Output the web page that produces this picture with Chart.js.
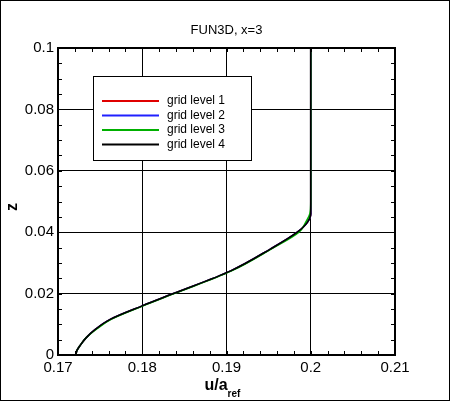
<!DOCTYPE html>
<html><head><meta charset="utf-8">
<script src="https://cdn.jsdelivr.net/npm/chart.js@4/dist/chart.umd.min.js"></script>
<style>html,body{margin:0;padding:0;background:#fff}#wrap{width:450px;height:401px;position:relative;box-sizing:border-box;border:1px solid #000}</style>
</head><body><div id="wrap"><canvas id="c"></canvas></div>
<script>
const zBase = [0, 0.0015, 0.003, 0.0055, 0.0085, 0.0116, 0.016, 0.020, 0.0274, 0.0345, 0.040, 0.0432, 0.046, 0.05, 0.1];
const uBase = [0.1721, 0.17225, 0.1726, 0.1733, 0.1745, 0.1762, 0.1800, 0.1837, 0.1905, 0.1952, 0.1984, 0.1996, 0.2000, 0.2000, 0.2000];
const uGrid3 = [0.1721, 0.17225, 0.1726, 0.1733, 0.1746, 0.1763, 0.1801, 0.1838, 0.1906, 0.1953, 0.1986, 0.1994, 0.1999, 0.2000, 0.2000];
const seriesNames = ['grid level 1', 'grid level 2', 'grid level 3', 'grid level 4'];
const seriesColors = ['#e00000', '#2020ff', '#00b000', '#000000'];
const xTicks = [0.17, 0.18, 0.19, 0.2, 0.21];
const yTicks = [0, 0.02, 0.04, 0.06, 0.08, 0.1];

const seriesU = [uBase, uBase, uGrid3, uBase];

const overlay = {
  id: 'overlay',
  afterDraw(chart) {
    const { ctx, chartArea: a, scales: { x, y } } = chart;
    ctx.save();
    ctx.strokeStyle = '#000';
    ctx.lineWidth = 1;
    // minor ticks
    ctx.beginPath();
    for (let v = 0.17; v <= 0.2101; v += 0.002) {
      const px = Math.round(x.getPixelForValue(v)) + 0.5;
      ctx.moveTo(px, a.bottom); ctx.lineTo(px, a.bottom - 4);
      ctx.moveTo(px, a.top); ctx.lineTo(px, a.top + 4);
    }
    for (let v = 0; v <= 0.1001; v += 0.005) {
      const py = Math.round(y.getPixelForValue(v)) + 0.5;
      ctx.moveTo(a.left, py); ctx.lineTo(a.left + 4, py);
      ctx.moveTo(a.right, py); ctx.lineTo(a.right - 4, py);
    }
    ctx.stroke();
    ctx.lineWidth = 2;
    ctx.strokeRect(a.left, a.top, a.right - a.left, a.bottom - a.top);
    // title
    ctx.fillStyle = '#000';
    ctx.font = '13px "Liberation Sans", Arial, sans-serif';
    ctx.textAlign = 'center';
    ctx.fillText('FUN3D, x=3', (a.left + a.right) / 2, 33);
    // axis titles
    ctx.font = 'bold 16px "Liberation Sans", Arial, sans-serif';
    ctx.textAlign = 'left';
    const cx = (a.left + a.right) / 2 - 22;
    ctx.fillText('u/a', cx, 389);
    const w = ctx.measureText('u/a').width;
    ctx.font = 'bold 10px "Liberation Sans", Arial, sans-serif';
    ctx.fillText('ref', cx + w, 396);
    ctx.font = 'bold 16px "Liberation Sans", Arial, sans-serif';
    ctx.translate(16, 206); ctx.rotate(-Math.PI / 2);
    ctx.textAlign = 'center';
    ctx.fillText('z', 0, 0);
    ctx.setTransform(1, 0, 0, 1, 0, 0);
    // legend
    ctx.fillStyle = '#fff';
    ctx.fillRect(92, 75, 158, 84);
    ctx.lineWidth = 1;
    ctx.strokeRect(92.5, 75.5, 158, 84);
    ctx.font = '12px "Liberation Sans", Arial, sans-serif';
    ctx.textAlign = 'left';
    ctx.textBaseline = 'middle';
    seriesNames.forEach((n, i) => {
      const ly = 100 + i * 14.5;
      ctx.strokeStyle = seriesColors[i];
      ctx.lineWidth = 2;
      ctx.beginPath(); ctx.moveTo(101, ly); ctx.lineTo(158, ly); ctx.stroke();
      ctx.fillStyle = '#000';
      ctx.fillText(n, 166, ly);
    });
    ctx.restore();
  }
};

new Chart(document.getElementById('c'), {
  type: 'scatter',
  data: {
    datasets: seriesNames.map((n, i) => ({
      label: n,
      order: 3 - i,
      data: seriesU[i].map((u, k) => ({ x: u, y: zBase[k] })),
      showLine: true,
      borderColor: seriesColors[i],
      borderWidth: 1.6,
      pointRadius: 0,
      cubicInterpolationMode: 'monotone',
      indexAxis: 'y'
    }))
  },
  options: {
    responsive: true, maintainAspectRatio: false, animation: false,
    layout: { padding: { left: 0, right: 54, top: 47, bottom: 0 } },
    plugins: { legend: { display: false }, tooltip: { enabled: false } },
    scales: {
      x: {
        type: 'linear', min: 0.17, max: 0.21,
        afterBuildTicks: s => { s.ticks = xTicks.map(v => ({ value: v })); },
        afterFit: s => { s.height = 45; },
        grid: { color: '#000', drawTicks: false, lineWidth: 1 },
        border: { display: false },
        ticks: { color: '#000', padding: 4, font: { size: 15, family: '"Liberation Sans", Arial' }, callback: v => String(+v.toFixed(2)) }
      },
      y: {
        type: 'linear', min: 0, max: 0.1,
        afterBuildTicks: s => { s.ticks = yTicks.map(v => ({ value: v })); },
        afterFit: s => { s.width = 57; },
        grid: { color: '#000', drawTicks: false, lineWidth: 1 },
        border: { display: false },
        ticks: { color: '#000', padding: 4, font: { size: 15, family: '"Liberation Sans", Arial' }, callback: v => String(+v.toFixed(2)) }
      }
    }
  },
  plugins: [overlay]
});
</script></body></html>
